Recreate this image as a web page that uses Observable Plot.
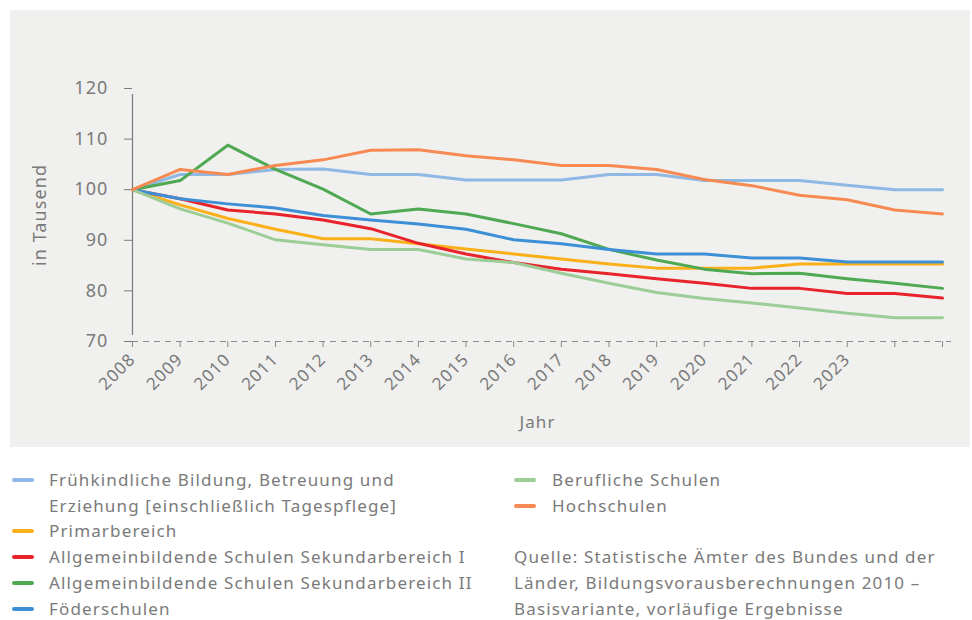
<!DOCTYPE html>
<html>
<head>
<meta charset="utf-8">
<script src="https://cdn.jsdelivr.net/npm/d3@7"></script>
<script src="https://cdn.jsdelivr.net/npm/@observablehq/plot@0.6"></script>
<style>
  body { margin:0; background:#fff; font-family:"Noto Sans", sans-serif; color:#7a7a7a; }
  #panel { position:absolute; left:10px; top:10px; width:960px; height:437px; background:#f0f0ee; }
  .leg { position:absolute; font-size:17px; line-height:26px; color:#7a7a7a; white-space:nowrap; letter-spacing:1.15px; }
  .sw { position:absolute; width:22px; height:4px; border-radius:2px; }
</style>
</head>
<body>
<div id="panel"></div>
<div id="legend"></div>
<script>
const years = [2008,2009,2010,2011,2012,2013,2014,2015,2016,2017,2018,2019,2020,2021,2022,2023,2024,2025];
const tickLabels = ["2008","2009","2010","2011","2012","2013","2014","2015","2016","2017","2018","2019","2020","2021","2022","2023","",""];
const seriesNames = [
  "Frühkindliche Bildung, Betreuung und Erziehung [einschließlich Tagespflege]",
  "Primarbereich",
  "Allgemeinbildende Schulen Sekundarbereich I",
  "Allgemeinbildende Schulen Sekundarbereich II",
  "Föderschulen",
  "Berufliche Schulen",
  "Hochschulen"
];
const colors = ["#8fb8e4","#fbb01a","#e8232b","#4fa852","#3d8fd6","#9ccd97","#f78a52"];
const fruehkindlich = [100,103,103,104,104.1,103,103,101.9,101.9,101.9,103,103,101.8,101.8,101.8,100.9,100,100];
const primar       = [100,97,94.3,92.2,90.3,90.3,89.3,88.3,87.3,86.3,85.3,84.5,84.5,84.5,85.3,85.3,85.3,85.3];
const sek1         = [100,98.2,96,95.2,94,92.3,89.4,87.3,85.6,84.3,83.4,82.4,81.5,80.5,80.5,79.5,79.5,78.6];
const sek2         = [100,101.8,108.8,104,100.1,95.2,96.2,95.2,93.3,91.3,88.2,86.1,84.3,83.4,83.5,82.4,81.5,80.5];
const foerder      = [100,98.2,97.2,96.4,94.9,94,93.2,92.2,90.1,89.3,88.2,87.3,87.3,86.5,86.5,85.7,85.7,85.7];
const beruflich    = [100,96.2,93.4,90.1,89.1,88.2,88.2,86.3,85.6,83.5,81.5,79.7,78.5,77.6,76.6,75.6,74.7,74.7];
const hoch         = [100,104,103,104.8,105.9,107.8,107.9,106.7,105.9,104.8,104.8,104,102,100.8,98.9,98,96,95.2];
const yTicks = [70,80,90,100,110,120];

const seriesValues = [fruehkindlich, primar, sek1, sek2, foerder, beruflich, hoch];
const data = [];
seriesNames.forEach((name, i) => {
  years.forEach((yr, j) => data.push({series: name, year: yr, value: seriesValues[i][j]}));
});

const chart = Plot.plot({
  width: 960,
  height: 437,
  marginLeft: 122,
  marginRight: 28,
  marginTop: 78,
  marginBottom: 106,
  style: {background: "transparent", fontFamily: "Noto Sans", fontSize: "17px", color: "#7a7a7a", overflow: "visible", letterSpacing: "1.1px"},
  x: {type: "linear", domain: [2008, 2025]},
  y: {domain: [70, 120]},
  color: {domain: seriesNames, range: colors},
  marks: [
    Plot.ruleY([70], {stroke: "#8a8a8a", strokeWidth: 1.2, strokeDasharray: "6,5", insetRight: -9}),
    Plot.ruleX([2008], {y1: 70, y2: 120, stroke: "#7a7a7a", strokeWidth: 1.2, insetTop: -6, insetBottom: -6}),
    Plot.axisY({ticks: yTicks, tickSize: 8, tickPadding: 16, fontSize: 18, stroke: "#7a7a7a",
      label: "in Tausend", labelAnchor: "center", labelArrow: "none", labelOffset: 99}),
    Plot.axisX({ticks: years, tickFormat: (d) => tickLabels[years.indexOf(d)], tickSize: 6, tickRotate: -45,
      tickPadding: 9, stroke: "#8a8a8a", fontSize: 17,
      label: "Jahr", labelAnchor: "center", labelArrow: "none", labelOffset: 86}),
    Plot.line(data, {x: "year", y: "value", z: "series", stroke: "series", strokeWidth: 3}),
  ]
});
document.getElementById("panel").appendChild(chart);

// legend
const legend = document.getElementById("legend");
function addItem(name, color, swX, textX, top, width) {
  const sw = document.createElement("div");
  sw.className = "sw";
  sw.style.left = swX + "px";
  sw.style.top = (top + 11) + "px";
  sw.style.background = color;
  legend.appendChild(sw);
  const t = document.createElement("div");
  t.className = "leg";
  t.style.left = textX + "px";
  t.style.top = top + "px";
  if (width) { t.style.whiteSpace = "normal"; t.style.width = width + "px"; }
  t.textContent = name;
  legend.appendChild(t);
}
addItem(seriesNames[0], colors[0], 12, 49, 467, 400);
addItem(seriesNames[1], colors[1], 12, 49, 518);
addItem(seriesNames[2], colors[2], 12, 49, 544);
addItem(seriesNames[3], colors[3], 12, 49, 570);
addItem(seriesNames[4], colors[4], 12, 49, 596);
addItem(seriesNames[5], colors[5], 514, 552, 467);
addItem(seriesNames[6], colors[6], 514, 552, 493);
const src = document.createElement("div");
src.className = "leg";
src.style.left = "514px";
src.style.top = "544px";
src.style.whiteSpace = "normal";
src.style.width = "445px";
src.textContent = "Quelle: Statistische Ämter des Bundes und der Länder, Bildungsvorausberechnungen 2010 – Basisvariante, vorläufige Ergebnisse";
legend.appendChild(src);
</script>
</body>
</html>
